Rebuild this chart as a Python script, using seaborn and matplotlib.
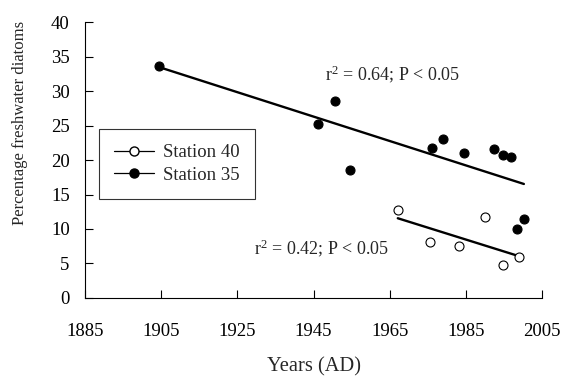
import numpy as np
import pandas as pd
import matplotlib
matplotlib.use('Agg')
import matplotlib.pyplot as plt
import seaborn as sns
from matplotlib.lines import Line2D

# values
years_35 = [1904.3, 1946.1, 1950.6, 1954.6, 1976.1, 1978.9, 1984.4, 1992.4, 1994.8, 1996.9, 1998.4, 2000.2]
pct_35 = [33.6, 25.3, 28.6, 18.55, 21.7, 23.0, 21.0, 21.55, 20.8, 20.4, 9.95, 11.45]
years_40 = [1967.1, 1975.5, 1983.2, 1990.0, 1994.8, 1998.9]
pct_40 = [12.75, 8.1, 7.5, 11.8, 4.7, 6.0]
x_ticks = [1885, 1905, 1925, 1945, 1965, 1985, 2005]
y_ticks = [0, 5, 10, 15, 20, 25, 30, 35, 40]

df35 = pd.DataFrame({'year': years_35, 'pct': pct_35})
df40 = pd.DataFrame({'year': years_40, 'pct': pct_40})

sns.set_style('ticks')
plt.rcParams['font.family'] = ['Liberation Serif', 'DejaVu Serif']
plt.rcParams['mathtext.fontset'] = 'custom'
plt.rcParams['mathtext.rm'] = 'Liberation Serif'
plt.rcParams['mathtext.it'] = 'Liberation Serif'

fig = plt.figure(figsize=(5.63, 3.78), dpi=100)
ax = fig.add_axes([0.151, 0.212, 0.812, 0.729])

sns.regplot(data=df35, x='year', y='pct', ci=None, scatter=False, ax=ax,
            line_kws={'color': 'black', 'lw': 1.7})
sns.regplot(data=df40, x='year', y='pct', ci=None, scatter=False, ax=ax,
            line_kws={'color': 'black', 'lw': 1.7})
sns.scatterplot(data=df35, x='year', y='pct', ax=ax, color='black', s=42,
                edgecolor='black', linewidth=0.8, zorder=3)
sns.scatterplot(data=df40, x='year', y='pct', ax=ax, facecolor='white', s=42,
                edgecolor='black', linewidth=0.8, zorder=3)

ax.text(1948.0, 31.6, 'r$^{2}$ = 0.64; P < 0.05', fontsize=13, va='baseline')
ax.text(1929.3, 6.3, 'r$^{2}$ = 0.42; P < 0.05', fontsize=13, va='baseline')

ax.set_xlim(1885, 2005)
ax.set_ylim(0, 40)
ax.set_xticks(x_ticks)
ax.set_yticks(y_ticks)
ax.tick_params(axis='both', direction='in', length=5.5, width=0.8, colors='black', labelsize=13.5)
ax.tick_params(axis='x', pad=18)
ax.tick_params(axis='y', pad=11)
for s in ['left', 'bottom']:
    ax.spines[s].set_linewidth(0.8)
    ax.spines[s].set_color('black')
sns.despine(ax=ax)

ax.set_xlabel('Years (AD)', fontsize=14.8)
ax.set_ylabel('Percentage freshwater diatoms', fontsize=12)
ax.xaxis.set_label_coords(0.5, -0.215)
ax.yaxis.set_label_coords(-0.125, 0.634)

handles = [
    Line2D([], [], color='black', lw=0.9, marker='o', markersize=6.5,
           markerfacecolor='white', markeredgecolor='black'),
    Line2D([], [], color='black', lw=0.9, marker='o', markersize=6.5,
           markerfacecolor='black', markeredgecolor='black'),
]
leg = ax.legend(handles, ['Station 40', 'Station 35'], loc='center left',
                bbox_to_anchor=(0.031, 0.486), borderaxespad=0, fontsize=13.5,
                fancybox=False, frameon=True, handlelength=2.1, handletextpad=0.5,
                labelspacing=0.3, borderpad=0.8)
leg.get_frame().set_edgecolor('black')
leg.get_frame().set_linewidth(0.8)

fig.savefig('out.png', dpi=100)
